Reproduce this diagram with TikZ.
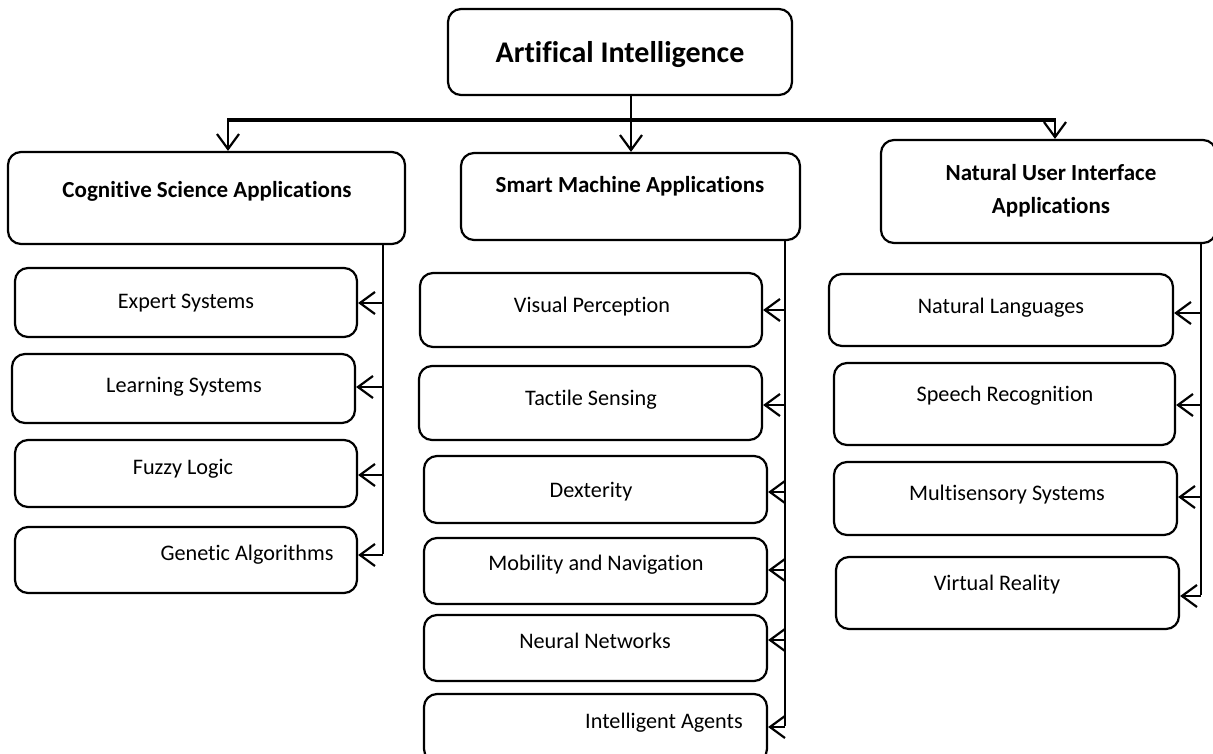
\documentclass[tikz,border=0pt]{standalone}
\usepackage{fontspec}
\setmainfont{Carlito}[Ligatures=NoCommon]
\usetikzlibrary{arrows.meta}

% rounded box given by its corners (x1,y1) and (x2,y2), y grows downwards
\newcommand\boxat[5]{%
  \node[box, minimum width=#4pt-#2pt, minimum height=#5pt-#3pt]
    (#1) at ({(#2+#4)/2},{(#3+#5)/2}) {};}

\begin{document}
\begin{tikzpicture}[x=1pt, y=-1pt,
  box/.style={draw, line width=2.2pt, rounded corners=13pt, inner sep=0pt},
  lbl/.style={font=\fontsize{22.2}{26}\selectfont, inner sep=0pt},
  head/.style={font=\bfseries\fontsize{23}{33}\selectfont, inner sep=0pt, align=center},
  title/.style={font=\bfseries\fontsize{30}{34}\selectfont, inner sep=0pt},
  wire/.style={line width=2.2pt},
  bus/.style={line width=4pt},
  arr/.style={line width=2.2pt,
    -{Straight Barb[length=15pt, width=22pt, line width=2.2pt]}},
]
\useasboundingbox (0,0) rectangle (1213,753);
\fill[white] (0,0) rectangle (1213,753);

% ---- top level
\boxat{ai}{448}{9}{792}{95}
\node[title] (ai-t) at (620,55) {Artifical Intelligence};

% ---- branches
\boxat{cs}{8}{152}{405}{244}
\node[head] (cs-t) at (207,191) {Cognitive Science Applications};
\boxat{sm}{461}{153}{800}{240}
\node[head] (sm-t) at (630,186) {Smart Machine Applications};
\boxat{nu}{881}{140}{1216}{243}
\node[head] (nu-t) at (1051,191) {Natural User Interface\\Applications};

% ---- distribution bus
\coordinate (busL) at (228,120);
\coordinate (busM) at (631,120);
\coordinate (busR) at (1055,120);
\draw[bus] ([xshift=-1pt]busL) -- ([xshift=1pt]busR);
\draw[wire] (ai.south -| busM) -- (busM);
\draw[arr] (busM) -- (sm.north -| busM);
\draw[arr] (busL) -- (cs.north -| busL);
\draw[arr] (busR) -- (nu.north -| busR);

% ---- cognitive science applications
\boxat{es}{15}{268}{357}{337}
\node[lbl] (es-t) at (186,303) {Expert Systems};
\boxat{ls}{12}{354}{355}{423}
\node[lbl] (ls-t) at (184,387) {Learning Systems};
\boxat{fl}{15}{440}{357}{507}
\node[lbl] (fl-t) at (183,469) {Fuzzy Logic};
\boxat{ga}{15}{527}{357}{593}
\node[lbl] (ga-t) at (247,555) {Genetic Algorithms};

\coordinate (l1) at (383,303);
\coordinate (l2) at (383,387);
\coordinate (l3) at (383,475);
\coordinate (l4) at (383,555);
\draw[wire] (cs.south -| l1) -- ([yshift=1pt]l4);
\foreach \p/\b in {l1/es, l2/ls, l3/fl, l4/ga}
  \draw[arr] (\p) -- (\p -| \b.east);

% ---- smart machine applications
\boxat{vp}{420}{273}{762}{347}
\node[lbl] (vp-t) at (592,307) {Visual Perception};
\boxat{ts}{419}{366}{762}{440}
\node[lbl] (ts-t) at (591,400) {Tactile Sensing};
\boxat{dx}{424}{456}{767}{523}
\node[lbl] (dx-t) at (591,492) {Dexterity};
\boxat{mn}{424}{538}{767}{604}
\node[lbl] (mn-t) at (596,565) {Mobility and Navigation};
\boxat{nn}{424}{615}{767}{681}
\node[lbl] (nn-t) at (595,641) {Neural Networks};
\boxat{ia}{424}{694}{767}{762}
\node[lbl] (ia-t) at (664,723) {Intelligent Agents};

\coordinate (m1) at (785,310);
\coordinate (m2) at (785,405);
\coordinate (m3) at (785,492);
\coordinate (m4) at (785,570);
\coordinate (m5) at (785,640);
\coordinate (m6) at (785,727);
\draw[wire] (sm.south -| m1) -- ([yshift=1pt]m6);
\foreach \p/\b in {m1/vp, m2/ts, m3/dx, m4/mn, m5/nn, m6/ia}
  \draw[arr] (\p) -- (\p -| \b.east);

% ---- natural user interface applications
\boxat{nl}{829}{274}{1173}{346}
\node[lbl] (nl-t) at (1001,308) {Natural Languages};
\boxat{sr}{834}{363}{1175}{445}
\node[lbl] (sr-t) at (1005,396) {Speech Recognition};
\boxat{ms}{834}{462}{1177}{535}
\node[lbl] (ms-t) at (1007,495) {Multisensory Systems};
\boxat{vr}{836}{557}{1179}{629}
\node[lbl] (vr-t) at (997,585) {Virtual Reality};

\coordinate (r1) at (1201,313);
\coordinate (r2) at (1201,405);
\coordinate (r3) at (1201,497);
\coordinate (r4) at (1201,596);
\draw[wire] (nu.south -| r1) -- ([yshift=1pt]r4);
\foreach \p/\b in {r1/nl, r2/sr, r3/ms, r4/vr}
  \draw[arr] (\p) -- (\p -| \b.east);
\end{tikzpicture}
\end{document}
